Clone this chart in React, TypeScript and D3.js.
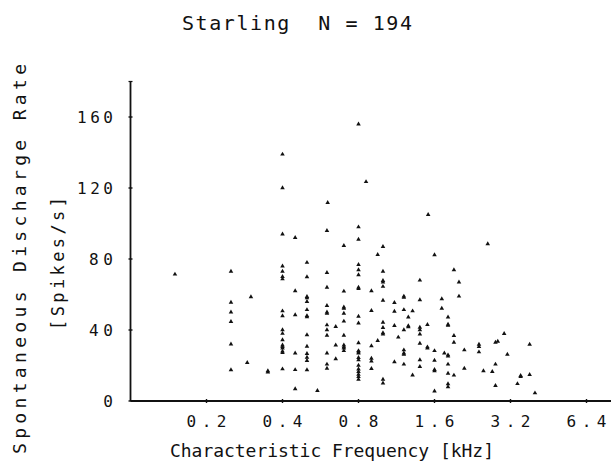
import React from "react";
import * as d3 from "d3";

// characteristic frequency (kHz) and spontaneous rate (spikes/s)
const freqs: number[] = [
  0.4, 0.4, 0.4,
  0.8, 0.857, 0.604, 1.51, 0.8, 0.6, 0.449, 0.70, 0.8, 1.0,
  2.6,
  0.15, 0.25, 0.25, 0.25, 0.25, 0.25, 0.25, 0.30, 0.29, 0.35, 0.35,
  0.4, 0.4, 0.4, 0.4, 0.4, 0.4, 0.4, 0.4, 0.4, 0.4, 0.4, 0.4, 0.4, 0.4,
  0.953, 1.6, 0.5, 0.8, 0.8, 0.8, 1.0, 1.0, 0.5, 0.6, 0.6, 0.449, 0.5, 0.70, 0.8, 0.9,
  1.0, 1.11, 1.21, 1.4, 1.4, 0.449, 0.5, 0.5, 0.6, 0.6, 0.7, 0.7, 0.7, 0.8, 0.8, 0.9,
  1.11, 1.21, 1.31, 1.26, 1.0, 1.0, 1.0, 1.11, 1.26, 1.21, 1.4, 1.4, 1.4, 1.5, 1.15, 0.953,
  0.6, 0.6, 0.6, 0.65, 0.5, 0.5, 0.5, 0.5, 0.5, 0.5, 0.449, 0.449, 0.449, 0.55,
  0.6, 0.6, 0.6, 0.65, 0.65, 0.7, 0.7, 0.7, 0.7, 0.8, 0.8, 0.8, 0.8, 0.8,
  0.8, 0.8, 0.8, 0.8, 0.8, 0.9, 0.9, 0.9, 0.9, 1.0, 1.0, 1.11, 1.21, 1.21, 1.21, 1.31,
  1.4, 1.4, 1.4, 1.5, 1.6, 1.6, 1.6, 1.6,
  1.91, 2.0, 2.0, 1.71, 1.71, 1.81, 1.81, 1.91, 1.91, 3.02, 2.85, 2.79, 2.4, 2.4, 2.4,
  2.1, 1.75, 1.81, 3.11, 3.81, 1.81, 2.1, 2.79, 2.5, 2.71, 1.81, 1.91, 3.81, 3.51, 3.41,
  1.81, 1.81, 2.79, 4.0,
  1.0, 0.5, 0.8, 1.21, 0.5, 0.6, 0.7, 1.0, 1.26, 0.7, 0.8, 1.21, 1.5, 1.6, 1.81, 1.81, 3.51,
  0.8, 0.4, 1.0, 0.5,
];
const rates: number[] = [
  139, 120, 94,
  156, 123.5, 111.7, 105, 98, 96, 92, 87.5, 91, 87,
  88.5,
  71.4, 73, 55.6, 50, 44.7, 32, 17.5, 58.6, 21.6, 16.3, 17,
  76, 73, 68.7, 70, 50.7, 47.9, 40, 38, 34.4, 30.6, 31.5, 27.2, 18, 29.8,
  82.4, 82.3, 78, 76.8, 73.8, 71, 73, 67, 69.9, 72.3, 64, 62, 58, 61.8, 63.3, 62,
  56.7, 55.4, 58.4, 68, 57, 48.5, 51.4, 47.3, 53.7, 49.4, 52.2, 49.4, 44.9, 47.7, 43.8, 50.9,
  50.5, 51.4, 50.7, 47.2, 44.3, 41.3, 37.7, 42.4, 41.7, 40, 41.5, 40, 37.7, 43, 35.9, 34,
  42.8, 40, 37, 41.9, 37.2, 30.8, 26.7, 24.6, 22.7, 17.5, 26.9, 17.6, 6.8, 5.8,
  26.9, 20.7, 18.4, 31.5, 23.7, 37, 31.5, 29.7, 28.3, 32.7, 28.3, 26.9, 24.4, 23.1,
  17.9, 16.5, 15, 13.7, 12.2, 31, 24, 22.5, 18.2, 12.2, 10, 22, 28.7, 26.9, 20.7, 14.6,
  32.5, 23.1, 19.3, 29.7, 28.3, 22.9, 17, 5.6,
  73.8, 66.9, 59, 57.5, 52.2, 47.2, 42.6, 36.8, 33, 37.9, 33.6, 33, 31.9, 30.6, 27.6,
  28.7, 26.9, 25.2, 26.3, 31.9, 20.7, 18.4, 20.7, 17, 16.5, 15.6, 14.5, 14.8, 13.7, 9.7,
  9.6, 7.9, 8.6, 4.5,
  67.8, 58.8, 64, 59, 48, 50.1, 52.9, 38.4, 42.3, 30.4, 27.6, 26.3, 30.4, 17.7, 43.2, 25.9, 14.3,
  20, 28, 64.5, 56,
];
const xTicks: number[] = [0.2, 0.4, 0.8, 1.6, 3.2, 6.4];
const xTickLabels: string[] = ["0.2", "0.4", "0.8", "1.6", "3.2", "6.4"];
const yTicks: number[] = [0, 40, 80, 120, 160];

const W = 611;
const H = 462;
const FONT = "'DejaVu Sans Mono', 'Liberation Mono', monospace";
const INK = "#111";

export default function App() {
  const x = d3.scaleLog().base(2).domain([0.1, 6.4]).range([130.5, 586.5]);
  const y = d3.scaleLinear().domain([0, 160]).range([401, 117]);
  const tri = d3.symbol().type(d3.symbolTriangle).size(9)();
  const pts = freqs.map((f, i) => ({ f, r: rates[i] }));

  return (
    <svg
      width={W}
      height={H}
      style={{ position: "absolute", left: 0, top: 0, background: "#fff" }}
    >
      <rect width={W} height={H} fill="#fff" />
      {/* title */}
      <text
        x={182}
        y={30}
        fontFamily={FONT}
        fontSize={20}
        fill={INK}
        textLength={230}
        lengthAdjust="spacing"
        style={{ whiteSpace: "pre" }}
      >
        {"Starling  N = 194"}
      </text>

      {/* y axis */}
      <line x1={x(0.1)} x2={x(0.1)} y1={y(0)} y2={y(180)} stroke={INK} strokeWidth={1.8} />
      <line x1={x(0.1) - 2} x2={x(0.1) + 2} y1={y(180)} y2={y(180)} stroke={INK} strokeWidth={1.2} />
      {yTicks.map((t) => (
        <g key={"yt" + t}>
          <line x1={x(0.1) - 2} x2={x(0.1) + 2} y1={y(t)} y2={y(t)} stroke={INK} strokeWidth={1.4} />
          <text
            x={113}
            y={y(t)}
            dy="0.36em"
            textAnchor="end"
            fontFamily={FONT}
            fontSize={16}
            fill={INK}
            textLength={t === 0 ? 12 : t < 100 ? 24 : 36}
            lengthAdjust="spacing"
          >
            {String(t)}
          </text>
        </g>
      ))}

      {/* x axis */}
      <line x1={x(0.1)} x2={W} y1={y(0)} y2={y(0)} stroke={INK} strokeWidth={1.8} />
      {xTicks.map((t, i) => (
        <g key={"xt" + t}>
          <line x1={x(t)} x2={x(t)} y1={y(0) - 2} y2={y(0) + 2} stroke={INK} strokeWidth={1.4} />
          <text
            x={x(t)}
            y={427}
            textAnchor="middle"
            fontFamily={FONT}
            fontSize={16}
            fill={INK}
            textLength={40}
            lengthAdjust="spacing"
          >
            {xTickLabels[i]}
          </text>
        </g>
      ))}

      {/* axis titles */}
      <text
        x={332}
        y={457}
        textAnchor="middle"
        fontFamily={FONT}
        fontSize={18}
        fill={INK}
        textLength={324}
        lengthAdjust="spacing"
      >
        Characteristic Frequency [kHz]
      </text>
      <text
        transform="translate(20,259) rotate(-90)"
        textAnchor="middle"
        dy="0.36em"
        fontFamily={FONT}
        fontSize={18}
        fill={INK}
        textLength={390}
        lengthAdjust="spacing"
      >
        Spontaneous Discharge Rate
      </text>
      <text
        transform="translate(58,263.5) rotate(-90)"
        textAnchor="middle"
        dy="0.36em"
        fontFamily={FONT}
        fontSize={17}
        fill={INK}
        textLength={133}
        lengthAdjust="spacing"
      >
        [Spikes/s]
      </text>

      {/* points */}
      {pts.map((p, i) => (
        <path
          key={i}
          d={tri as string}
          transform={`translate(${x(p.f)},${y(p.r)})`}
          fill={INK}
        />
      ))}
    </svg>
  );
}
